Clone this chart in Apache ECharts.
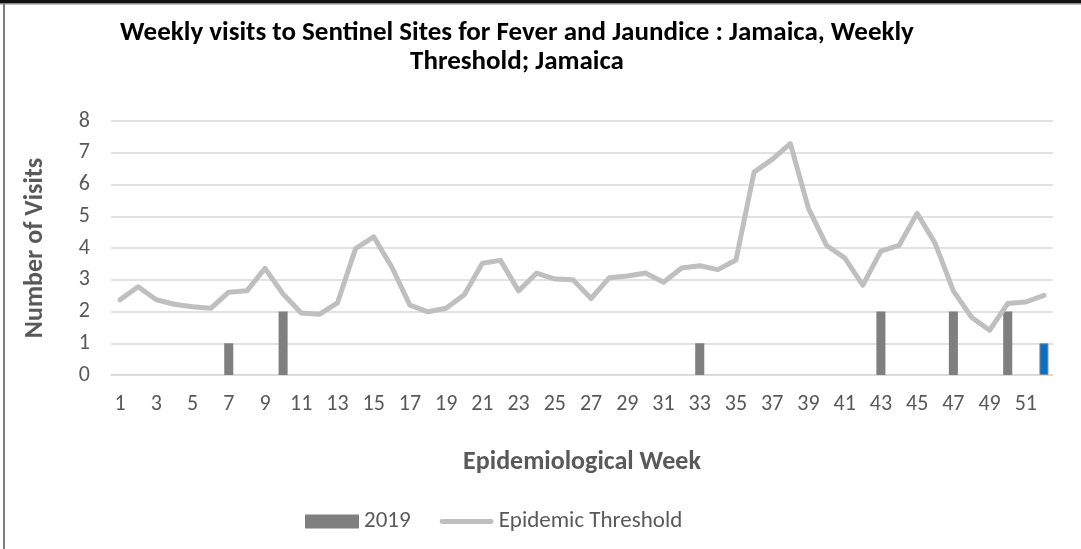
<!DOCTYPE html>
<html>
<head>
<meta charset="utf-8">
<title>Weekly visits to Sentinel Sites for Fever and Jaundice</title>
<script src="https://cdn.jsdelivr.net/npm/echarts@6/dist/echarts.min.js"></script>
<style>
  html, body { margin: 0; padding: 0; background: #fff; }
  #chart { width: 1081px; height: 549px; }
</style>
</head>
<body>
<div id="chart"></div>
<script>
// Epidemiological weeks 1..52
const weeks = Array.from({ length: 52 }, (_, i) => String(i + 1));

// Visits recorded in 2019 (only weeks with visits are non-zero)
const visits2019 = [
  0, 0, 0, 0, 0, 0, 1, 0, 0, 2,
  0, 0, 0, 0, 0, 0, 0, 0, 0, 0,
  0, 0, 0, 0, 0, 0, 0, 0, 0, 0,
  0, 0, 1, 0, 0, 0, 0, 0, 0, 0,
  0, 0, 2, 0, 0, 0, 2, 0, 0, 2,
  0, 1
];

// Weekly epidemic threshold
const epidemicThreshold = [
  2.37, 2.78, 2.37, 2.23, 2.15, 2.10, 2.61, 2.65, 3.36, 2.55,
  1.95, 1.91, 2.27, 3.98, 4.35, 3.40, 2.20, 1.99, 2.10, 2.53,
  3.52, 3.61, 2.65, 3.21, 3.02, 3.00, 2.41, 3.06, 3.12, 3.21,
  2.92, 3.37, 3.44, 3.32, 3.62, 6.39, 6.79, 7.29, 5.25, 4.08,
  3.69, 2.83, 3.90, 4.08, 5.09, 4.14, 2.65, 1.82, 1.41, 2.25,
  2.30, 2.51
];

// Latest reported week is highlighted
const latestWeek = 52;

const FONT = 'Carlito, Lato, "Open Sans", sans-serif';
const chart = echarts.init(document.getElementById('chart'), null, { renderer: 'canvas' });

const barData = visits2019.map((v, i) =>
  (i + 1 === latestWeek)
    ? { value: v, itemStyle: { color: '#0B6FC2', borderColor: '#8C8C8C', borderWidth: 1 } }
    : v
);

chart.setOption({
  backgroundColor: '#ffffff',
  animation: false,
  title: {
    text: 'Weekly visits to Sentinel Sites for Fever and Jaundice : Jamaica, Weekly\nThreshold; Jamaica',
    left: 512,
    top: 14,
    textAlign: 'center',
    textStyle: {
      fontFamily: FONT,
      fontWeight: 'bold',
      fontSize: 27,
      lineHeight: 29,
      color: '#000000'
    }
  },
  graphic: [
    { type: 'rect', shape: { x: 0, y: 0, width: 1081, height: 3 }, style: { fill: '#111111' } },
    { type: 'rect', shape: { x: 0, y: 3, width: 1081, height: 1.5 }, style: { fill: '#8a8a8a' } },
    { type: 'rect', shape: { x: 3, y: 3, width: 2, height: 546 }, style: { fill: '#7f7f7f' } }
  ],
  legend: {
    bottom: 11,
    left: 300,
    itemGap: 29,
    itemWidth: 54,
    itemHeight: 14,
    textStyle: { fontFamily: FONT, fontSize: 23, color: '#595959' },
    data: [
      { name: '2019', icon: 'rect' },
      { name: 'Epidemic Threshold', icon: 'path://M2.5,0 L52.5,0 A2.5,2.5 0 0 1 52.5,5 L2.5,5 A2.5,2.5 0 0 1 2.5,0 Z' }
    ]
  },
  grid: {
    left: 111,
    right: 28,
    top: 121,
    bottom: 174,
    containLabel: false
  },
  xAxis: {
    type: 'category',
    data: weeks,
    boundaryGap: true,
    name: 'Epidemiological Week',
    nameLocation: 'middle',
    nameGap: 74,
    nameTextStyle: { fontFamily: FONT, fontWeight: 'bold', fontSize: 26, color: '#595959' },
    axisLine: { show: true, lineStyle: { color: '#D9D9D9', width: 1.5 } },
    axisTick: { show: false },
    axisLabel: {
      interval: 1,
      margin: 18,
      fontFamily: FONT,
      fontSize: 22,
      color: '#595959'
    }
  },
  yAxis: {
    type: 'value',
    min: 0,
    max: 8,
    interval: 1,
    name: 'Number of Visits',
    nameLocation: 'middle',
    nameGap: 63,
    nameRotate: 90,
    nameTextStyle: { fontFamily: FONT, fontWeight: 'bold', fontSize: 26, color: '#595959' },
    axisLine: { show: false },
    axisTick: { show: false },
    axisLabel: { margin: 21, fontFamily: FONT, fontSize: 22, color: '#595959' },
    splitLine: { lineStyle: { color: '#D9D9D9', width: 1.5 } }
  },
  series: [
    {
      name: '2019',
      type: 'bar',
      data: barData,
      barWidth: '50%',
      itemStyle: { color: '#7F7F7F' },
      z: 2
    },
    {
      name: 'Epidemic Threshold',
      type: 'line',
      data: epidemicThreshold,
      symbol: 'none',
      smooth: false,
      lineStyle: { color: '#BFBFBF', width: 5, cap: 'round', join: 'round' },
      itemStyle: { color: '#BFBFBF' },
      z: 3
    }
  ]
});
</script>
</body>
</html>
